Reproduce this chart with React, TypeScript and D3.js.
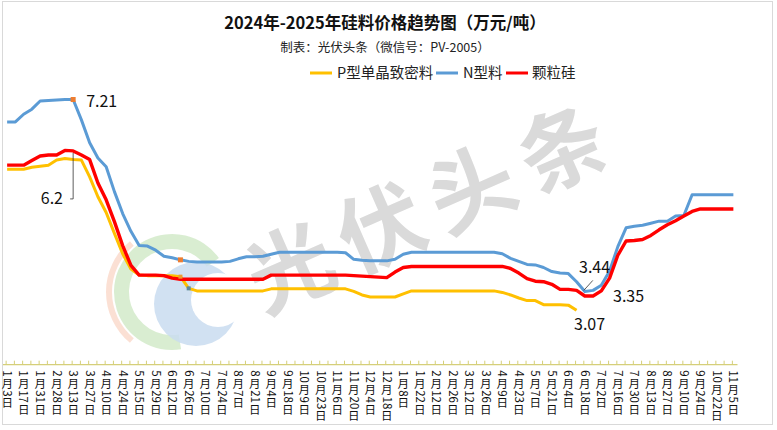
import * as d3 from "d3";

const dates = [
  "1月3日", "1月10日", "1月17日", "1月24日", "1月31日", "2月21日", "2月28日", "3月6日", "3月13日", "3月20日",
  "3月27日", "4月3日", "4月10日", "4月17日", "4月24日", "5月8日", "5月15日", "5月22日", "5月29日", "6月5日",
  "6月12日", "6月19日", "6月26日", "7月3日", "7月10日", "7月17日", "7月24日", "7月31日", "8月7日", "8月14日",
  "8月21日", "8月28日", "9月4日", "9月11日", "9月18日", "9月25日", "10月9日", "10月16日", "10月23日", "10月30日",
  "11月6日", "11月13日", "11月20日", "11月27日", "12月4日", "12月11日", "12月18日", "12月25日", "1月8日", "1月15日",
  "1月22日", "2月5日", "2月12日", "2月19日", "2月26日", "3月5日", "3月12日", "3月19日", "3月26日", "4月2日",
  "4月9日", "4月16日", "4月23日", "4月30日", "5月7日", "5月14日", "5月21日", "5月28日", "6月4日", "6月11日",
  "6月18日", "6月25日", "7月2日", "7月9日", "7月16日", "7月23日", "7月30日", "8月6日", "8月13日", "8月20日",
  "8月27日", "9月3日", "9月10日", "9月17日", "9月24日", "10月15日", "10月22日", "10月29日", "11月5日",
];

// P型单晶致密料 (ends in June 2025)
const pType: (number | null)[] = [
  5.84, 5.84, 5.84, 5.88, 5.9, 5.92, 6.02, 6.05, 6.03, 6.02,
  5.69, 5.3, 4.99, 4.58, 4.18, 3.88, 3.76, 3.75, 3.75, 3.75,
  3.75, 3.73, 3.5, 3.45, 3.45, 3.45, 3.45, 3.45, 3.45, 3.45,
  3.45, 3.45, 3.49, 3.49, 3.49, 3.49, 3.49, 3.49, 3.49, 3.49,
  3.49, 3.49, 3.44, 3.37, 3.33, 3.33, 3.33, 3.33, 3.39, 3.45,
  3.45, 3.45, 3.45, 3.45, 3.45, 3.45, 3.45, 3.45, 3.45, 3.45,
  3.42, 3.37, 3.31, 3.26, 3.26, 3.18, 3.18, 3.18, 3.17, 3.07,
  null, null, null, null, null, null, null, null, null, null,
  null, null, null, null, null, null, null, null, null,
];

// N型料
const nType = [
  6.77, 6.77, 6.92, 7.02, 7.18, 7.19, 7.2, 7.21, 7.21, 6.81,
  6.36, 6.06, 5.89, 5.4, 4.97, 4.62, 4.34, 4.33, 4.25, 4.13,
  4.1, 4.06, 4.03, 4.02, 4.02, 4.02, 4.02, 4.03, 4.08, 4.12,
  4.12, 4.13, 4.17, 4.21, 4.21, 4.21, 4.21, 4.21, 4.21, 4.21,
  4.21, 4.2, 4.07, 4.05, 4.04, 4.04, 4.04, 4.07, 4.17, 4.21,
  4.21, 4.21, 4.21, 4.21, 4.21, 4.21, 4.21, 4.21, 4.21, 4.21,
  4.18, 4.09, 4.03, 3.97, 3.96, 3.91, 3.83, 3.8, 3.79, 3.63,
  3.44, 3.46, 3.56, 3.84, 4.32, 4.69, 4.72, 4.74, 4.78, 4.82,
  4.82, 4.92, 4.93, 5.34, 5.34, 5.34, 5.34, 5.34, 5.34,
];

// 颗粒硅
const granular = [
  5.92, 5.92, 5.92, 6.01, 6.1, 6.12, 6.12, 6.21, 6.2, 6.12,
  6.03, 5.57, 5.24, 4.81, 4.34, 3.95, 3.76, 3.76, 3.76, 3.75,
  3.7, 3.68, 3.68, 3.68, 3.68, 3.68, 3.68, 3.68, 3.68, 3.68,
  3.68, 3.68, 3.76, 3.76, 3.76, 3.76, 3.76, 3.76, 3.76, 3.76,
  3.76, 3.76, 3.75, 3.74, 3.73, 3.72, 3.71, 3.82, 3.91, 3.93,
  3.93, 3.93, 3.93, 3.93, 3.93, 3.93, 3.93, 3.93, 3.93, 3.93,
  3.93, 3.89, 3.8, 3.69, 3.64, 3.63, 3.58, 3.48, 3.48, 3.46,
  3.35, 3.35, 3.45, 3.7, 4.15, 4.43, 4.44, 4.46, 4.54, 4.65,
  4.75, 4.83, 4.92, 5.01, 5.06, 5.06, 5.06, 5.06, 5.06,
];

const seriesNames = ["P型单晶致密料", "N型料", "颗粒硅"];
const seriesColors = ["#FFC000", "#5B9BD5", "#FF0000"];

const W = 777;
const H = 430;
const FONT = "'Noto Sans CJK SC', 'Noto Sans', sans-serif";
const TICK_FS = 11.5;

// vertical label: CJK upright, digit runs turned clockwise
function VLabel({ x, y, label }: { x: number; y: number; label: string }) {
  const runs = label.match(/\d+|\D/g) || [];
  let cur = y;
  const parts = runs.map((r, k) => {
    const start = cur;
    if (/\d/.test(r)) {
      cur += r.length * TICK_FS * 0.56 + 1.5;
      return (
        <text
          key={k}
          transform={`translate(${x},${start + 0.5}) rotate(90)`}
          x={0}
          y={TICK_FS * 0.36}
          fontSize={TICK_FS}
          fill="#111"
        >
          {r}
        </text>
      );
    }
    cur += TICK_FS + 0.5;
    return (
      <text key={k} x={x} y={start + TICK_FS * 0.86} textAnchor="middle" fontSize={TICK_FS} fill="#111">
        {r}
      </text>
    );
  });
  return <g>{parts}</g>;
}

export default function App() {
  const x = d3
    .scaleBand<number>()
    .domain(dates.map((_, i) => i))
    .range([3, 737.5]);
  const cx = (i: number) => (x(i) as number) + x.bandwidth() / 2;
  const y = d3.scaleLinear().domain([2, 8]).range([364.7, 59.3]);
  const axisY = y(2);

  const line = d3
    .line<number | null>()
    .defined((d) => d != null)
    .x((_, i) => cx(i))
    .y((d) => y(d as number));

  const series = [pType, nType, granular];
  const widths = [3, 3, 3.4];

  // watermark logo pieces
  const ring = d3.arc()({ innerRadius: 43, outerRadius: 58, startAngle: Math.PI * 0.95, endAngle: Math.PI * 2.3 }) as string;
  const orange = d3.arc()({ innerRadius: 60, outerRadius: 66, startAngle: Math.PI * 1.22, endAngle: Math.PI * 1.78 }) as string;

  const wmStep = 99;

  return (
    <svg width={W} height={H} style={{ position: "absolute", left: 0, top: 0, background: "#fff" }} fontFamily={FONT}>
      <rect x={0} y={0} width={W} height={H} fill="#fff" />
      <rect x={2.5} y={1.5} width={770} height={423} fill="none" stroke="#d9d9d9" />

      {/* watermark */}
      <g>
        <path d={orange} transform="translate(172,292)" fill="#f9d3c2" opacity={0.7} />
        <path d={ring} transform="translate(172,292)" fill="#cfe8c6" opacity={0.8} />
        <circle cx={196} cy={304} r={42} fill="#c9dcf0" opacity={0.85} />
        <circle cx={218} cy={300} r={27} fill="#fff" />
      </g>
      <g transform="translate(424,203) rotate(-23.7)">
        {"光伏头条".split("").map((ch, k) => (
          <text
            key={k}
            x={(k - 1.5) * wmStep}
            y={0}
            textAnchor="middle"
            dominantBaseline="central"
            fontSize={86}
            fontWeight={700}
            fill="#dadada"
          >
            {ch}
          </text>
        ))}
      </g>

      {/* title */}
      <text x={385} y={29} textAnchor="middle" fontSize={16.5} fontWeight={700} fill="#111">
        2024年-2025年硅料价格趋势图（万元/吨）
      </text>
      <text x={385} y={52} textAnchor="middle" fontSize={12.5} fill="#222">
        制表：光伏头条（微信号：PV-2005）
      </text>

      {/* legend */}
      {(() => {
        const items = [
          { x: 310, tx: 337 },
          { x: 436, tx: 463 },
          { x: 506, tx: 532 },
        ];
        return items.map((it, k) => (
          <g key={k}>
            <line x1={it.x} x2={it.x + 22} y1={73} y2={73} stroke={seriesColors[k]} strokeWidth={3} />
            <text x={it.tx} y={78} fontSize={14.5} fill="#222">
              {seriesNames[k]}
            </text>
          </g>
        ));
      })()}

      {/* axis */}
      <line x1={3} x2={737.5} y1={axisY} y2={axisY} stroke="#d5cf79" strokeWidth={1.2} />
      {dates.map((_, i) => (
        <line key={i} x1={cx(i) - 1} x2={cx(i) - 1} y1={axisY - 4} y2={axisY} stroke="#d5cf79" strokeWidth={1} />
      ))}
      {dates.map((d, i) => (i % 2 === 0 ? <VLabel key={i} x={cx(i)} y={axisY + 5} label={d} /> : null))}

      {/* series */}
      {series.map((s, k) => (
        <path
          key={k}
          d={line(s) as string}
          fill="none"
          stroke={seriesColors[k]}
          strokeWidth={widths[k]}
          strokeLinejoin="round"
        />
      ))}

      {/* highlighted points */}
      <rect x={cx(8) - 2.5} y={y(nType[8]) - 2.5} width={5} height={5} fill="#ED7D31" />
      <rect x={cx(21) - 2.5} y={y(nType[21]) - 2.5} width={5} height={5} fill="#ED7D31" />
      <rect x={cx(21) - 2} y={y(pType[21] as number) - 2} width={4} height={4} fill="#ED9A31" />
      <rect x={cx(22) - 2} y={y(pType[22] as number) - 2} width={4} height={4} fill="#5f8a9c" />

      {/* annotations */}
      <text x={cx(8) + 13} y={y(nType[8]) + 7} fontSize={16} fill="#111">
        {nType[8]}
      </text>
      <polyline
        points={`${cx(8)},${y(granular[8]) + 2} ${cx(8)},${y(granular[8]) + 48} ${cx(8) - 3},${y(granular[8]) + 48}`}
        fill="none"
        stroke="#333"
        strokeWidth={0.8}
      />
      <text x={63} y={y(granular[8]) + 53} textAnchor="end" fontSize={16} fill="#111">
        {granular[8]}
      </text>
      <line x1={cx(70) - 1} y1={y(nType[70]) - 1} x2={cx(70) + 8} y2={y(nType[70]) - 11} stroke="#333" strokeWidth={0.8} />
      <text x={579} y={273} fontSize={16} fill="#111">
        {nType[70]}
      </text>
      <text x={613} y={302} fontSize={16} fill="#111">
        {granular[71]}
      </text>
      <text x={574} y={330} fontSize={16} fill="#111">
        {pType[69]}
      </text>
    </svg>
  );
}
